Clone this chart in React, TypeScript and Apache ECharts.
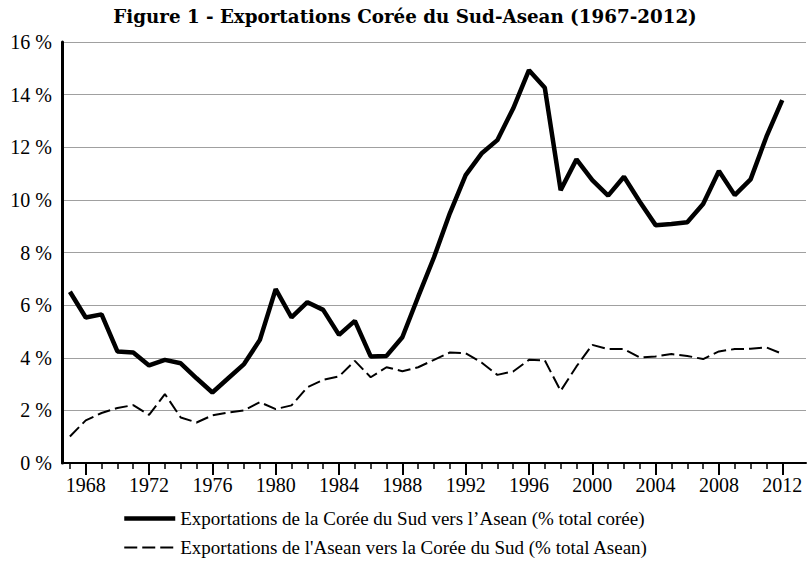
import React, { useEffect, useRef } from "react";
import * as echarts from "echarts";

const years: string[] = [];
for (let y = 1967; y <= 2013; y++) years.push(String(y));

const coreeVersAsean = [
  6.51, 5.53, 5.65, 4.24, 4.2, 3.71, 3.92, 3.79, 3.22, 2.68,
  3.22, 3.76, 4.68, 6.61, 5.53, 6.11, 5.82, 4.87, 5.4, 4.05,
  4.07, 4.78, 6.32, 7.82, 9.49, 10.94, 11.76, 12.27, 13.47, 14.93,
  14.26, 10.37, 11.54, 10.75, 10.16, 10.88, 9.93, 9.04, 9.08, 9.15,
  9.84, 11.1, 10.18, 10.78, 12.4, 13.79,
];

const aseanVersCoree = [
  1.01, 1.62, 1.9, 2.09, 2.2, 1.83, 2.62, 1.73, 1.54, 1.81,
  1.92, 2.0, 2.31, 2.05, 2.19, 2.88, 3.16, 3.29, 3.88, 3.26,
  3.64, 3.49, 3.64, 3.92, 4.2, 4.17, 3.82, 3.35, 3.48, 3.92,
  3.9, 2.74, 3.67, 4.49, 4.33, 4.33, 4.01, 4.05, 4.14, 4.07,
  3.95, 4.24, 4.33, 4.34, 4.39, 4.15,
];

const seriesNames = [
  "Exportations de la Corée du Sud vers l’Asean (% total corée)",
  "Exportations de l'Asean vers la Corée du Sud (% total Asean)",
];

const titleText = "Figure 1 - Exportations Corée du Sud-Asean (1967-2012)";

const FONT = "'Liberation Serif', 'Times New Roman', serif";
const TITLE_FONT = "'DejaVu Serif', 'Liberation Serif', serif";

export default function App() {
  const ref = useRef<HTMLDivElement>(null);
  useEffect(() => {
    if (!ref.current) return;
    const chart = echarts.init(ref.current, null, { renderer: "svg" });
    const isLabelYear = (i: number) => {
      const y = 1967 + i;
      return y <= 2012 && (y - 1968) % 4 === 0;
    };
    chart.setOption({
      animation: false,
      backgroundColor: "#ffffff",
      textStyle: { fontFamily: FONT },
      title: {
        text: titleText,
        left: "center",
        top: 7,
        padding: 0,
        textStyle: {
          fontFamily: TITLE_FONT,
          fontWeight: "bold",
          fontSize: 18.3,
          color: "#000",
        },
      },
      grid: { left: 62, right: 4, top: 42, bottom: 103, containLabel: false },
      legend: {
        orient: "vertical",
        left: 122,
        top: 509,
        padding: 0,
        itemWidth: 51,
        itemHeight: 14,
        itemGap: 10,
        itemStyle: { opacity: 0 },
        textStyle: { fontFamily: FONT, fontSize: 19, color: "#000" },
        data: [
          { name: seriesNames[0], lineStyle: { width: 4.5 } },
          { name: seriesNames[1], lineStyle: { width: 2 } },
        ],
      },
      xAxis: [
        {
          type: "category",
          data: years,
          boundaryGap: true,
          axisLine: { show: true, lineStyle: { color: "#000", width: 2 } },
          axisTick: {
            show: true,
            alignWithLabel: true,
            length: 6,
            interval: (i: number) => i < 46,
            lineStyle: { color: "#000", width: 1.5 },
          },
          axisLabel: {
            interval: (i: number) => isLabelYear(i),
            fontFamily: FONT,
            fontSize: 20,
            color: "#000",
            margin: 12,
          },
          splitLine: { show: false },
        },
        {
          type: "category",
          data: years,
          boundaryGap: true,
          position: "bottom",
          axisLine: { show: false },
          axisTick: {
            show: true,
            alignWithLabel: true,
            length: 12,
            interval: (i: number) => isLabelYear(i),
            lineStyle: { color: "#000", width: 2 },
          },
          axisLabel: { show: false },
          splitLine: { show: false },
        },
      ],
      yAxis: {
        type: "value",
        min: 0,
        max: 16,
        interval: 2,
        axisLine: { show: true, lineStyle: { color: "#000", width: 3 } },
        axisTick: { show: false },
        axisLabel: {
          formatter: (v: number) => `${v} %`,
          fontFamily: FONT,
          fontSize: 20,
          color: "#000",
          margin: 10,
        },
        splitLine: { show: true, lineStyle: { color: "#a0a0a0", width: 1 } },
      },
      series: [
        {
          name: seriesNames[0],
          type: "line",
          xAxisIndex: 0,
          data: coreeVersAsean,
          symbol: "none",
          lineStyle: { color: "#000", width: 4.5 },
          itemStyle: { color: "#000" },
          z: 3,
        },
        {
          name: seriesNames[1],
          type: "line",
          xAxisIndex: 0,
          data: aseanVersCoree,
          symbol: "none",
          lineStyle: { color: "#000", width: 2, type: [13, 5] },
          itemStyle: { color: "#000" },
          z: 2,
        },
      ],
    });
    return () => chart.dispose();
  }, []);
  return (
    <div
      ref={ref}
      style={{ position: "fixed", left: 0, top: 0, width: 810, height: 566 }}
    />
  );
}
